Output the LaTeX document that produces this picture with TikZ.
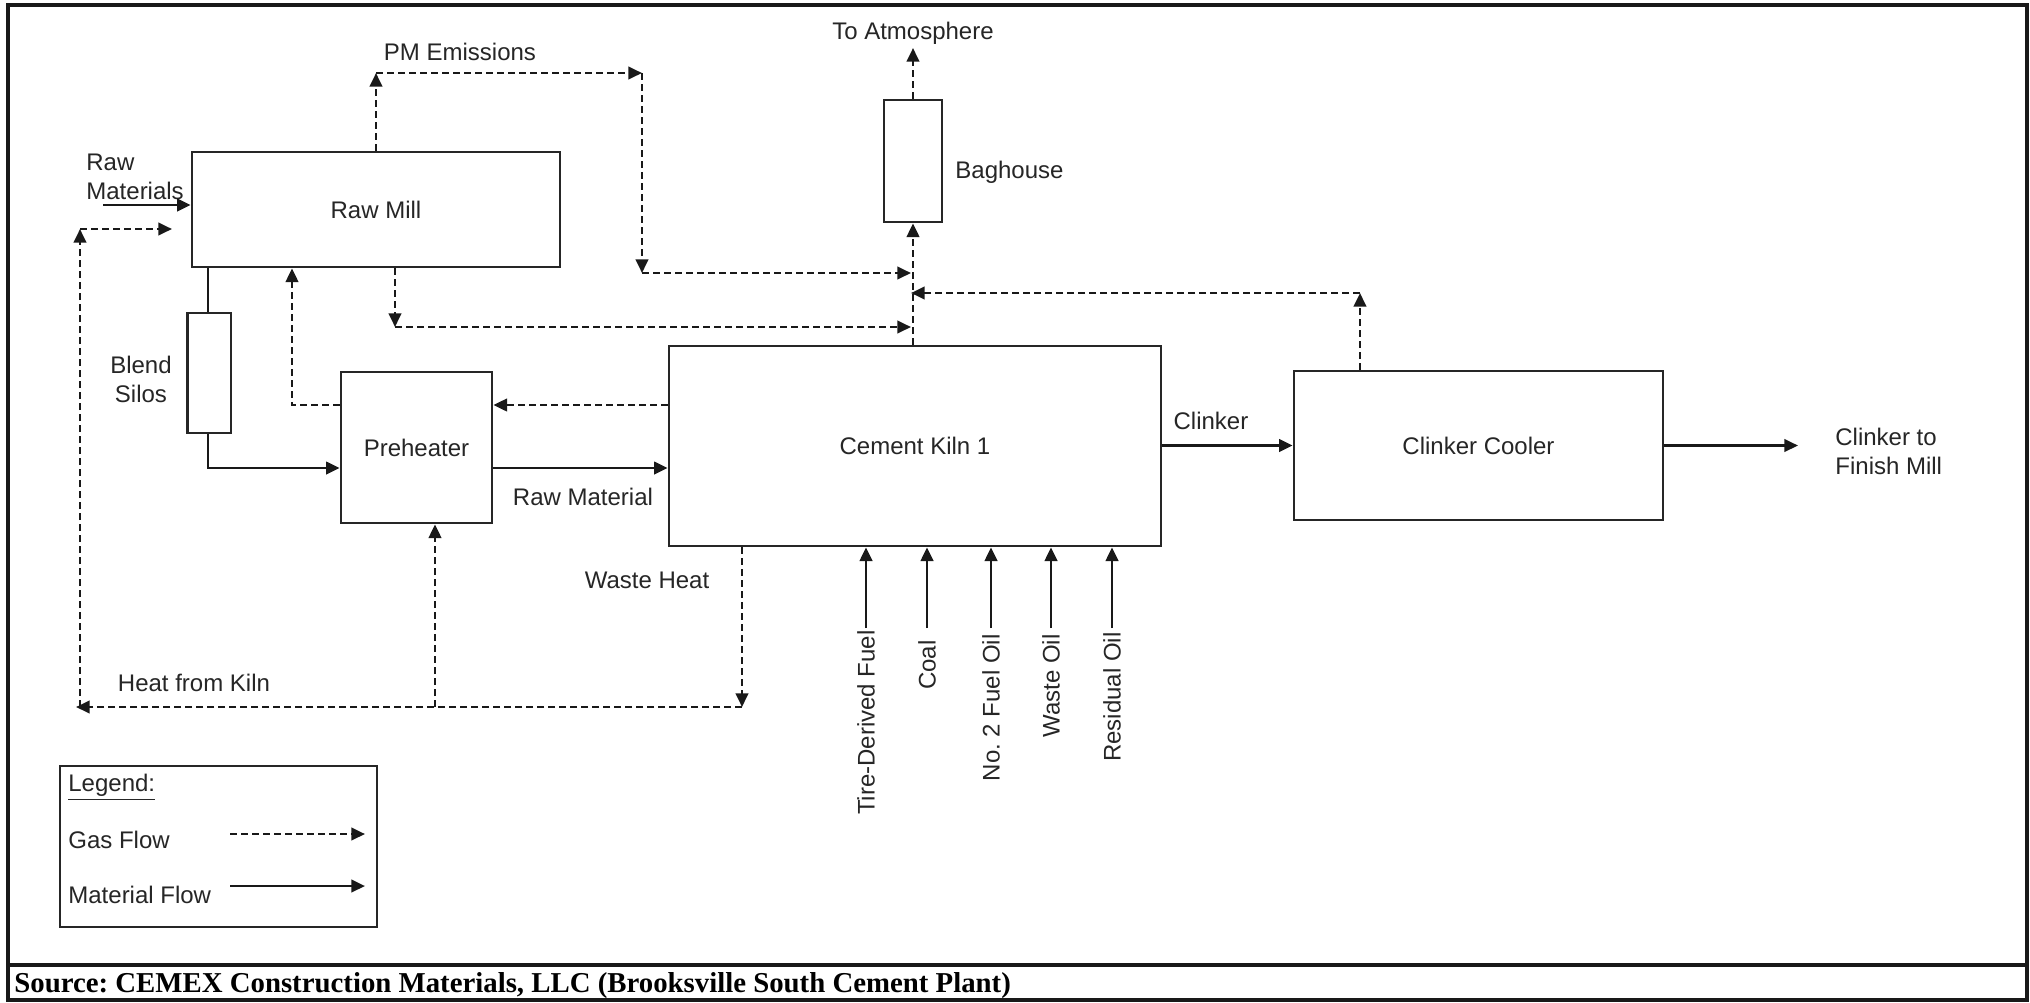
\documentclass[tikz,border=0pt]{standalone}
\usepackage{fontspec}
\setmainfont{Liberation Sans}
\newfontfamily\srcfont{Liberation Serif}
\usetikzlibrary{arrows.meta}
\frenchspacing
\begin{document}
\begin{tikzpicture}[x=0.5pt,y=-0.5pt,
  every node/.style={text=black!85, font=\fontsize{12}{14.5}\selectfont},
  unitbox/.style={draw=black!85, line width=1.4pt, inner sep=0pt},
  lbl/.style={inner sep=0pt},
  gas/.style={draw=black!90, line width=1.35pt, dash pattern=on 3.4pt off 2.1pt,
    -{Triangle[length=6.8pt,width=6.2pt]}},
  mat/.style={draw=black!90, line width=1.4pt,
    -{Triangle[length=6.8pt,width=6.2pt]}},
  fuel/.style={lbl, rotate=90, anchor=east, inner sep=1pt}]

% page and frame
\fill[white] (0,0) rectangle (2030,1002);
\useasboundingbox (0,0) rectangle (2030,1002);
\draw[line width=1.7pt, black!90] (8,5) rectangle (2027,1000);
\draw[line width=2.2pt, black!90] (8,965) -- (2027,965);
\node[anchor=west, lbl, text=black, font=\srcfont\bfseries\fontsize{14.4}{16}\selectfont] (src) at (14,986)
  {Source: CEMEX Construction Materials, LLC (Brooksville South Cement Plant)};

% process units
\node[unitbox, minimum width=184pt, minimum height=57.5pt] (rawmill) at (376,209.5) {Raw Mill};
\node[unitbox, minimum width=21.75pt, minimum height=60pt] (silos) at (209.25,373) {};
\node[unitbox, minimum width=75.5pt, minimum height=75.5pt] (preheater) at (416.5,447.5) {Preheater};
\node[unitbox, minimum width=246pt, minimum height=100pt] (kiln) at (915,446) {Cement Kiln 1};
\node[unitbox, minimum width=184.5pt, minimum height=74.5pt] (cooler) at (1478.5,445.5) {Clinker Cooler};
\node[unitbox, minimum width=29pt, minimum height=61pt] (baghouse) at (913,161) {};

% labels
\node[lbl, align=left, anchor=west] (lrawin) at (86,177) {Raw\\Materials};
\node[lbl] (lpm) at (460,52) {PM Emissions};
\node[lbl] (latm) at (913,33) {To Atmosphere};
\node[lbl, anchor=west] (lbag) at (955,172) {Baghouse};
\node[lbl, align=center] (lsilos) at (141,379) {Blend\\Silos};
\node[lbl] (lrawmat) at (583,497) {Raw Material};
\node[lbl] (lwaste) at (647,580) {Waste Heat};
\node[lbl] (lheat) at (194,683) {Heat from Kiln};
\node[lbl] (lclinker) at (1211,421) {Clinker};
\node[lbl, align=left, anchor=west] (lfinish) at (1835,451) {Clinker to\\Finish Mill};

% helper points
\coordinate (rmin) at (103,205);
\coordinate (lb) at (80,707);
\coordinate (lc) at (80,229);
\coordinate (rmgas) at (172,229);
\coordinate (pm1) at (376,73);
\coordinate (pm2) at (642,73);
\coordinate (pm3) at (642,273);
\coordinate (rm1) at (395,327);
\coordinate (cl1) at (1360,293);
\coordinate (kp) at (669,405);
\coordinate (pr1) at (292,405);
\coordinate (sl1) at (208,468);
\coordinate (wh) at (742,707);
\coordinate (hl) at (76,707);
\coordinate (hp) at (435,707);
\coordinate (atm) at (913,48);
\coordinate (fm) at (1798,445.5);

% raw material feed and gas to raw mill
\draw[mat] (rmin) -- (rmin -| rawmill.west);
\draw[gas] (lb) -- (lc);
\draw[gas] (lc) -- (rmgas);

% PM emissions route to baghouse
\draw[gas] (rawmill.north -| pm1) -- (pm1);
\draw[gas] (pm1) -- (pm2);
\draw[gas] (pm2) -- (pm3);
\draw[gas, shorten >=1pt] (pm3) -- (pm3 -| baghouse);
\draw[gas] (rawmill.south -| rm1) -- (rm1);
\draw[gas, shorten >=1pt] (rm1) -- (rm1 -| baghouse);
\draw[gas] (kiln.north -| baghouse) -- (baghouse.south);
\draw[gas] (baghouse.north) -- (atm);
\draw[gas] (cooler.north -| cl1) -- (cl1);
\draw[gas, shorten >=-1pt] (cl1) -- (cl1 -| baghouse);

% kiln gases through preheater
\draw[gas] (kiln.west |- kp) -- (preheater.east |- kp);
\draw[gas] (preheater.west |- pr1) -- (pr1) -- (pr1 |- rawmill.south);

% material path
\draw[line width=1.4pt, black!90] (rawmill.south -| sl1) -- (silos.north -| sl1);
\draw[mat] (silos.south -| sl1) -- (sl1) -- (sl1 -| preheater.west);
\draw[mat] (preheater.east |- sl1) -- (kiln.west |- sl1);
\draw[mat] (kiln.east |- cooler.west) -- (cooler.west);
\draw[mat] (cooler.east) -- (fm);

% waste heat loop
\draw[gas] (kiln.south -| wh) -- (wh);
\draw[gas] (wh) -- (hl);
\draw[gas] (hp) -- (hp |- preheater.south);

% kiln fuels
\coordinate (f1) at (866,628);
\coordinate (f2) at (927,628);
\coordinate (f3) at (991,628);
\coordinate (f4) at (1051,628);
\coordinate (f5) at (1112,628);
\foreach \f in {f1,f2,f3,f4,f5} \draw[mat] (\f) -- (\f |- kiln.south);
\node[fuel] (ltdf) at (f1) {Tire-Derived Fuel};
\node[fuel] (lcoal) at ([yshift=-5pt]f2) {Coal};
\node[fuel] (lno2) at ([yshift=-2pt]f3) {No. 2 Fuel Oil};
\node[fuel] (lwoil) at ([yshift=-2pt]f4) {Waste Oil};
\node[fuel] (lres) at ([yshift=-1pt]f5) {Residual Oil};

% legend
\node[draw=black!85, line width=1.3pt, minimum width=158.5pt, minimum height=80.5pt, inner sep=0pt] (legend) at (218.5,846.5) {};
\node[lbl, anchor=west] (lleg) at (68,787) {\underline{Legend:}};
\node[lbl, anchor=west] (lgas) at (68,840) {Gas Flow};
\node[lbl, anchor=west] (lmat) at (68,895) {Material Flow};
\coordinate (lg1) at (230,834);
\coordinate (lg2) at (365,834);
\coordinate (lg3) at (230,886);
\coordinate (lg4) at (365,886);
\draw[gas] (lg1) -- (lg2);
\draw[mat] (lg3) -- (lg4);
\end{tikzpicture}
\end{document}
